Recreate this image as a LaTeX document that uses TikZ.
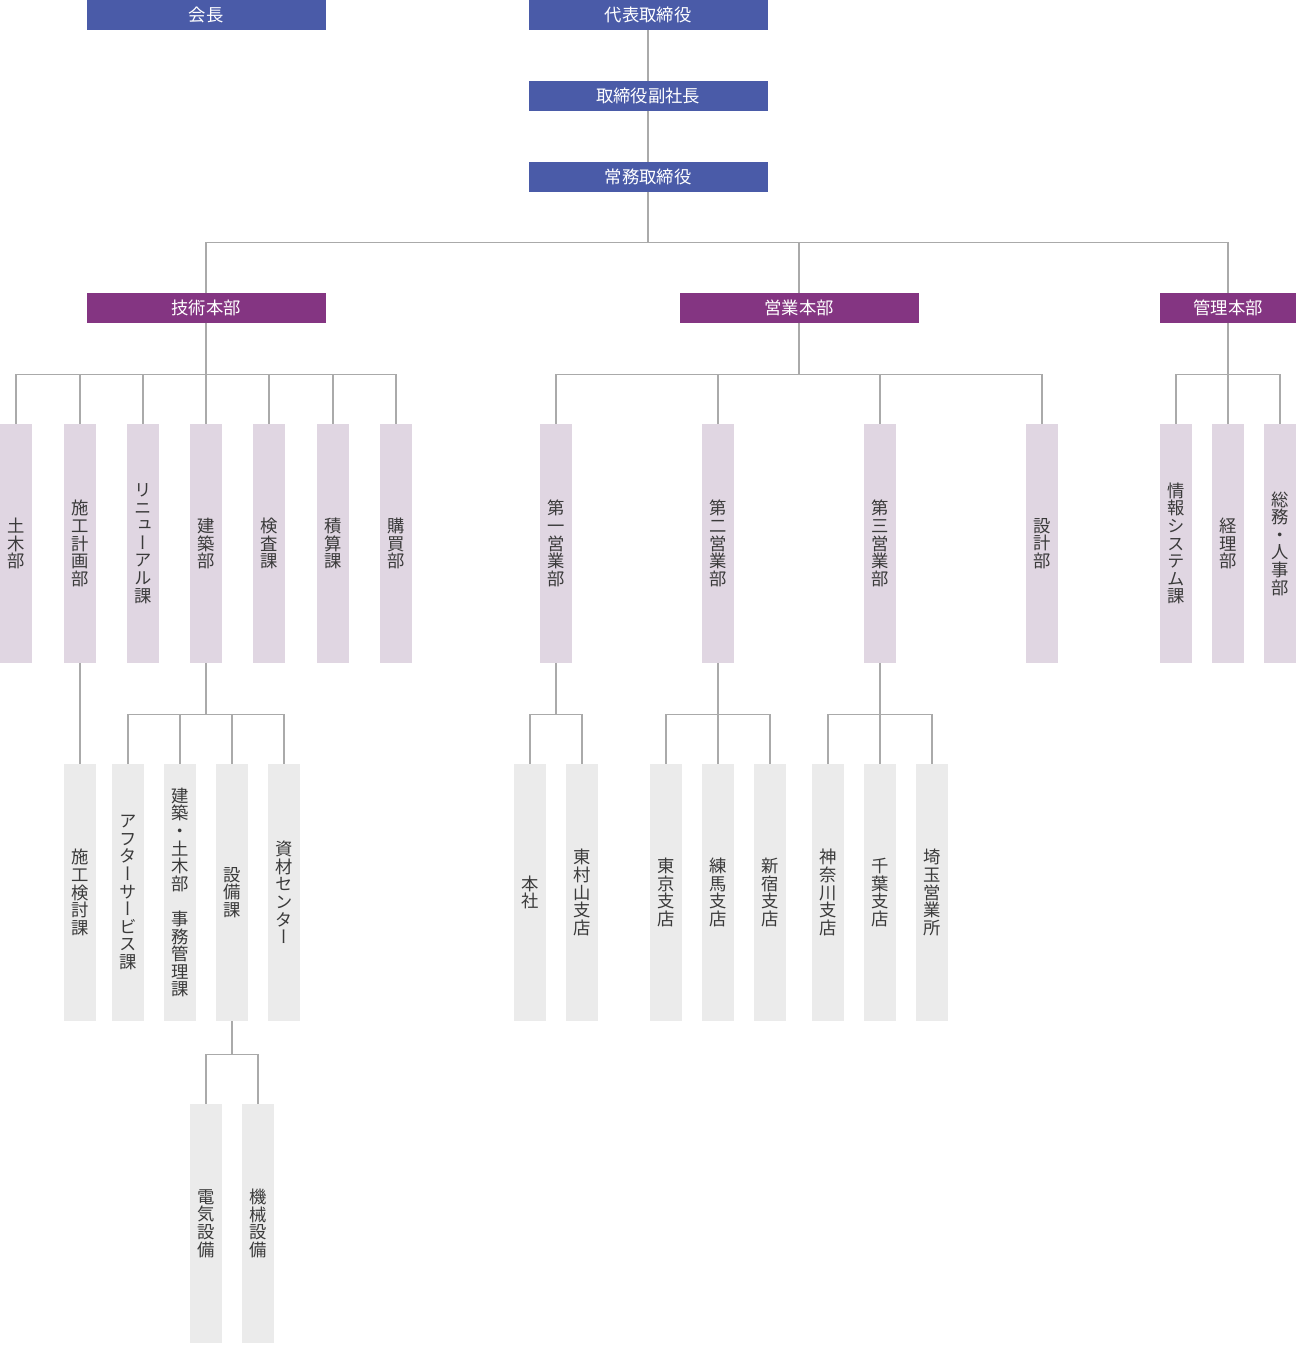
\documentclass[tikz,border=0pt]{standalone}
\usepackage{fontspec}
\setmainfont{Noto Sans CJK JP}
\newfontfamily\tatefont{Noto Sans CJK JP}[RawFeature=+vert]

\definecolor{execblue}{HTML}{4A5BA8}
\definecolor{hqpurple}{HTML}{843582}
\definecolor{deptpink}{HTML}{E0D6E2}
\definecolor{sectgray}{HTML}{EBEBEB}
\definecolor{linegray}{HTML}{AAAAAA}
\definecolor{textgray}{HTML}{3A3A3A}

\tikzset{
	box/.style={rectangle, inner sep=0pt, font=\fontsize{13}{13}\selectfont},
	exec/.style={box, fill=execblue, text=white, minimum width=179.25pt, minimum height=22.5pt},
	hq/.style={box, fill=hqpurple, text=white, minimum width=179.25pt, minimum height=22.5pt},
	tatebox/.style={box, align=center, text=textgray, minimum width=24pt, font=\tatefont\fontsize{13}{13.2}\selectfont},
	dept/.style={tatebox, fill=deptpink, minimum height=179.25pt},
	sect/.style={tatebox, fill=sectgray, minimum height=192.75pt},
	unitbox/.style={tatebox, fill=sectgray, minimum height=179.25pt},
	link/.style={draw=linegray, line width=0.9pt}
}

\begin{document}
\begin{tikzpicture}[x=0.75pt, y=-0.75pt]
\useasboundingbox (0,0) rectangle (1296,1345);

% executives
\node[exec](kaicho) at(206,15) {会長};
\node[exec](daihyo) at(648,15) {代表取締役};
\node[exec](fukushacho) at(648,96) {取締役副社長};
\node[exec](jomu) at(648,177) {常務取締役};

% headquarters
\node[hq](gijutsu) at(206,308) {技術本部};
\node[hq](eigyo) at(799,308) {営業本部};
\node[hq, minimum width=102pt](kanri) at(1228,308) {管理本部};

% departments
\foreach \x/\name/\label in {
	16/doboku/土\\木\\部
	, 80/sekokeikaku/施\\工\\計\\画\\部
	, 143/renewal/リ\\ニ\\ュ\\ー\\ア\\ル\\課
	, 206/kenchiku/建\\築\\部
	, 269/kensa/検\\査\\課
	, 333/sekisan/積\\算\\課
	, 396/kobai/購\\買\\部
	, 556/eigyo1/第\\一\\営\\業\\部
	, 718/eigyo2/第\\二\\営\\業\\部
	, 880/eigyo3/第\\三\\営\\業\\部
	, 1042/sekkei/設\\計\\部
	, 1176/joho/情\\報\\シ\\ス\\テ\\ム\\課
	, 1228/keiri/経\\理\\部
	, 1280/somu/総\\務\\・\\人\\事\\部
}{
	\node[dept](\name) at(\x,543.5) {\label};
}

% sections and branches
\foreach \x/\name/\label in {
	80/sekokento/施\\工\\検\\討\\課
	, 128/after/ア\\フ\\タ\\ー\\サ\\ー\\ビ\\ス\\課
	, 180/jimu/建\\築\\・\\土\\木\\部\\　\\事\\務\\管\\理\\課
	, 232/setsubi/設\\備\\課
	, 284/shizai/資\\材\\セ\\ン\\タ\\ー
	, 530/honsha/本\\社
	, 582/higashimurayama/東\\村\\山\\支\\店
	, 666/tokyo/東\\京\\支\\店
	, 718/nerima/練\\馬\\支\\店
	, 770/shinjuku/新\\宿\\支\\店
	, 828/kanagawa/神\\奈\\川\\支\\店
	, 880/chiba/千\\葉\\支\\店
	, 932/saitama/埼\\玉\\営\\業\\所
}{
	\node[sect](\name) at(\x,892.5) {\label};
}

\node[unitbox](denki) at(206,1223.5) {電\\気\\設\\備};
\node[unitbox](kikai) at(258,1223.5) {機\\械\\設\\備};

% connectors
\draw[link] (daihyo) -- (fukushacho);
\draw[link] (fukushacho) -- (jomu);
\foreach \c in {gijutsu,eigyo,kanri}{
	\draw[link] (jomu.south) -- ++(0,50) -| (\c.north);
}
\foreach \c in {doboku,sekokeikaku,renewal,kenchiku,kensa,sekisan,kobai}{
	\draw[link] (gijutsu.south) -- ++(0,51) -| (\c.north);
}
\foreach \c in {eigyo1,eigyo2,eigyo3,sekkei}{
	\draw[link] (eigyo.south) -- ++(0,51) -| (\c.north);
}
\foreach \c in {joho,keiri,somu}{
	\draw[link] (kanri.south) -- ++(0,51) -| (\c.north);
}
\draw[link] (sekokeikaku) -- (sekokento);
\foreach \c in {after,jimu,setsubi,shizai}{
	\draw[link] (kenchiku.south) -- ++(0,51) -| (\c.north);
}
\foreach \c in {honsha,higashimurayama}{
	\draw[link] (eigyo1.south) -- ++(0,51) -| (\c.north);
}
\foreach \c in {tokyo,nerima,shinjuku}{
	\draw[link] (eigyo2.south) -- ++(0,51) -| (\c.north);
}
\foreach \c in {kanagawa,chiba,saitama}{
	\draw[link] (eigyo3.south) -- ++(0,51) -| (\c.north);
}
\foreach \c in {denki,kikai}{
	\draw[link] (setsubi.south) -- ++(0,33) -| (\c.north);
}

\end{tikzpicture}
\end{document}
